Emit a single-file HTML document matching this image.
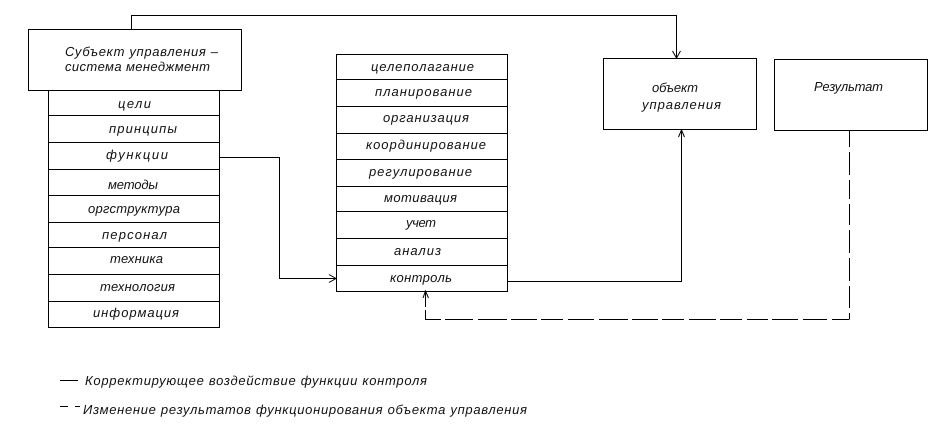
<!DOCTYPE html>
<html>
<head>
<meta charset="utf-8">
<style>
html,body{margin:0;padding:0;background:#fff;width:934px;height:424px;overflow:hidden}
svg{display:block}
.l{fill:none;stroke:#000;stroke-width:1;shape-rendering:crispEdges}
.a{fill:none;stroke:#000;stroke-width:1}
text{font-family:"Liberation Sans",sans-serif;font-style:italic;font-size:13px;fill:#111;text-rendering:geometricPrecision}
</style>
</head>
<body>
<svg width="934" height="424" viewBox="0 0 934 424" xmlns="http://www.w3.org/2000/svg">
<g class="l">
<rect x="28.5" y="29.5" width="213" height="61"/>
<path d="M48.5 90.5V327.5H219.5V90.5"/>
<path d="M48 115.5H220M48 142.5H220M48 169.5H220M48 195.5H220M48 222.5H220M48 247.5H220M48 274.5H220M48 301.5H220"/>
<rect x="336.5" y="54.5" width="171" height="237"/>
<path d="M336 79.5H508M336 106.5H508M336 133.5H508M336 159.5H508M336 186.5H508M336 211.5H508M336 238.5H508M336 265.5H508"/>
<rect x="603.5" y="58.5" width="153" height="71"/>
<rect x="774.5" y="59.5" width="153" height="71"/>
<path d="M131.5 29V15.5H676.5V58"/>
<path d="M219 157.5H279.5V278.5H336"/>
<path d="M507 281.5H681.5V130"/>
<path d="M849.5 131V147M849.5 152V175M849.5 180V199M849.5 204V225M849.5 230V253M849.5 258V281M849.5 286V308M849.5 313V319.5"/>
<path d="M849 319.5H832M827 319.5H803M798 319.5H772M768 319.5H747M742 319.5H720M716 319.5H689M684 319.5H662M658 319.5H632M628 319.5H599M594 319.5H568M563 319.5H541M537 319.5H511M507 319.5H478M473 319.5H445M441 319.5H425.5V310M425.5 307V291"/>
<path d="M60 380.5H78"/>
<path d="M60 406.5H68M75 406.5H80"/>
</g>
<g class="a">
<path d="M672.5 51L676.5 58L680.5 51"/>
<path d="M678.5 137L681.5 130L684.5 137"/>
<path d="M329 274.5L336 278.5L329 282.5"/>
<path d="M423 298L425.5 291L428.5 298"/>
</g>
<g>
<text x="65" y="56" textLength="153">Субъект управления –</text>
<text x="65" y="71" textLength="145">система менеджмент</text>
<text x="118" y="108" textLength="33">цели</text>
<text x="109" y="133" textLength="68">принципы</text>
<text x="106" y="159" textLength="62">функции</text>
<text x="108" y="189" textLength="50">методы</text>
<text x="88" y="213" textLength="92">оргструктура</text>
<text x="102" y="239" textLength="65">персонал</text>
<text x="110" y="263" textLength="53">техника</text>
<text x="100" y="291" textLength="75">технология</text>
<text x="93" y="317" textLength="86">информация</text>
<text x="371" y="71" textLength="103">целеполагание</text>
<text x="375" y="96" textLength="97">планирование</text>
<text x="383" y="122" textLength="86">организация</text>
<text x="366" y="149" textLength="120">координирование</text>
<text x="369" y="176" textLength="103">регулирование</text>
<text x="384" y="202" textLength="73">мотивация</text>
<text x="406" y="227" textLength="30">учет</text>
<text x="394" y="255" textLength="47">анализ</text>
<text x="390" y="282" textLength="62">контроль</text>
<text x="652" y="92" textLength="46">объект</text>
<text x="642" y="109" textLength="79">управления</text>
<text x="814" y="91" textLength="69">Результат</text>
<text x="85" y="385" textLength="342">Корректирующее воздействие функции контроля</text>
<text x="83" y="414" textLength="444">Изменение результатов функционирования объекта управления</text>
</g>
</svg>
</body>
</html>
